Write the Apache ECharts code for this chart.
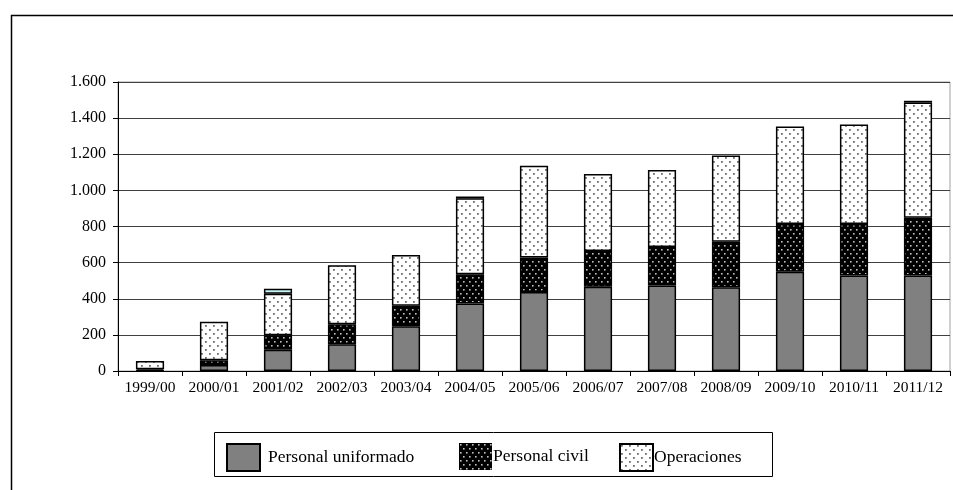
<!DOCTYPE html>
<html>
<head>
<meta charset="utf-8">
<script src="https://cdn.jsdelivr.net/npm/echarts@6/dist/echarts.min.js"></script>
<style>
  html, body { margin: 0; padding: 0; background: #fff; }
  #chart { width: 953px; height: 490px; }
</style>
</head>
<body>
<div id="chart"></div>
<script>
// Ejercicios presupuestarios
const categories = ['1999/00', '2000/01', '2001/02', '2002/03', '2003/04', '2004/05', '2005/06',
  '2006/07', '2007/08', '2008/09', '2009/10', '2010/11', '2011/12'];

// Gasto por componente
const personalUniformado = [2, 33, 118, 148, 248, 374, 438, 466, 474, 463, 549, 529, 529];
const personalCivil      = [8, 27, 80, 111, 113, 161, 191, 198, 212, 253, 265, 285, 320];
const operaciones        = [45, 212, 230, 327, 281, 421, 508, 427, 427, 477, 540, 551, 637];
const otros              = [null, null, 27, null, null, null, null, null, null, null, null, null, null];
const ajustes            = [null, null, null, null, null, 10, null, null, null, null, null, null, 10];

const yTicks = [0, 200, 400, 600, 800, 1000, 1200, 1400, 1600];

const FONT = "'Liberation Serif', 'Times New Roman', serif";

// Dotted fill tiles
function dotTile(w, h, bg, dot, dots, size) {
  const c = document.createElement('canvas');
  c.width = w; c.height = h;
  const g = c.getContext('2d');
  g.fillStyle = bg; g.fillRect(0, 0, w, h);
  g.fillStyle = dot;
  dots.forEach(([x, y]) => g.fillRect(x, y, size, size));
  return c;
}
const civilFill = { image: dotTile(6, 8, '#000000', '#c0c0c0', [[1, 1], [4, 5]], 1.6), repeat: 'repeat' };
const opsFill = { image: dotTile(8, 8, '#ffffff', '#6e6e6e', [[1, 1], [5, 5]], 1.8), repeat: 'repeat' };

function fmt(v) {
  return String(v).replace(/\B(?=(\d{3})+(?!\d))/g, '.');
}

const chart = echarts.init(document.getElementById('chart'), null, { renderer: 'canvas' });

const barBase = { type: 'bar', stack: 'total', barWidth: '44%', animation: false };
const legendText = { color: '#000', fontFamily: FONT, fontSize: 17.5 };

chart.setOption({
  backgroundColor: '#fff',
  animation: false,
  grid: {
    left: 118, right: 3, top: 82, bottom: 119,
    show: true, borderColor: '#a0a0a0', borderWidth: 1, backgroundColor: 'transparent'
  },
  xAxis: {
    type: 'category',
    data: categories,
    axisLine: { lineStyle: { color: '#000', width: 1 } },
    axisTick: { show: true, length: 5, lineStyle: { color: '#000' }, alignWithLabel: false },
    axisLabel: { color: '#000', fontFamily: FONT, fontSize: 15.5, margin: 9, interval: 0 }
  },
  yAxis: {
    type: 'value',
    min: yTicks[0], max: yTicks[yTicks.length - 1], interval: yTicks[1] - yTicks[0],
    axisLine: { show: true, lineStyle: { color: '#000', width: 1 } },
    axisTick: { show: true, length: 5, lineStyle: { color: '#000' } },
    axisLabel: { color: '#000', fontFamily: FONT, fontSize: 16, margin: 12, formatter: fmt },
    splitLine: { show: true, lineStyle: { color: '#404040', width: 1 } }
  },
  legend: [
    { data: ['Personal uniformado'], icon: 'rect', left: 226, top: 443, padding: 0,
      itemWidth: 33, itemHeight: 27, itemStyle: { borderColor: '#000', borderWidth: 2 },
      textStyle: Object.assign({ padding: [0, 0, 0, 3] }, legendText) },
    { data: ['Personal civil'], icon: 'rect', left: 459, top: 443, padding: 0,
      itemWidth: 33, itemHeight: 27, itemStyle: { borderWidth: 0 },
      textStyle: Object.assign({ padding: [0, 0, 0, -4] }, legendText) },
    { data: ['Operaciones'], icon: 'rect', left: 619, top: 443, padding: 0,
      itemWidth: 33, itemHeight: 27, itemStyle: { borderColor: '#000', borderWidth: 2 },
      textStyle: Object.assign({ padding: [0, 0, 0, -4] }, legendText) }
  ],
  series: [
    Object.assign({}, barBase, {
      name: 'Personal uniformado', data: personalUniformado,
      itemStyle: { color: '#808080', borderColor: '#000', borderWidth: 1.5 }
    }),
    Object.assign({}, barBase, {
      name: 'Personal civil', data: personalCivil,
      itemStyle: { color: civilFill, borderColor: '#000', borderWidth: 1.5 }
    }),
    Object.assign({}, barBase, {
      name: 'Operaciones', data: operaciones,
      itemStyle: { color: opsFill, borderColor: '#000', borderWidth: 1.5 }
    }),
    Object.assign({}, barBase, {
      name: 'Otros', data: otros,
      itemStyle: { color: '#c9f4f6', borderColor: '#000', borderWidth: 1.5 }
    }),
    Object.assign({}, barBase, {
      name: 'Ajustes', data: ajustes,
      itemStyle: { color: '#000', borderColor: '#000', borderWidth: 1.5 }
    })
  ],
  graphic: [
    // outer chart frame
    { type: 'rect', left: 9, top: 13, silent: true,
      shape: { x: 0, y: 0, width: 960, height: 500 },
      style: { fill: 'none', stroke: '#000', lineWidth: 1.5 } },
    // legend frame
    { type: 'rect', silent: true, z: -1,
      shape: { x: 214.5, y: 432.5, width: 558, height: 44 },
      style: { fill: '#fff', stroke: '#000', lineWidth: 1 } }
  ]
});
</script>
</body>
</html>
